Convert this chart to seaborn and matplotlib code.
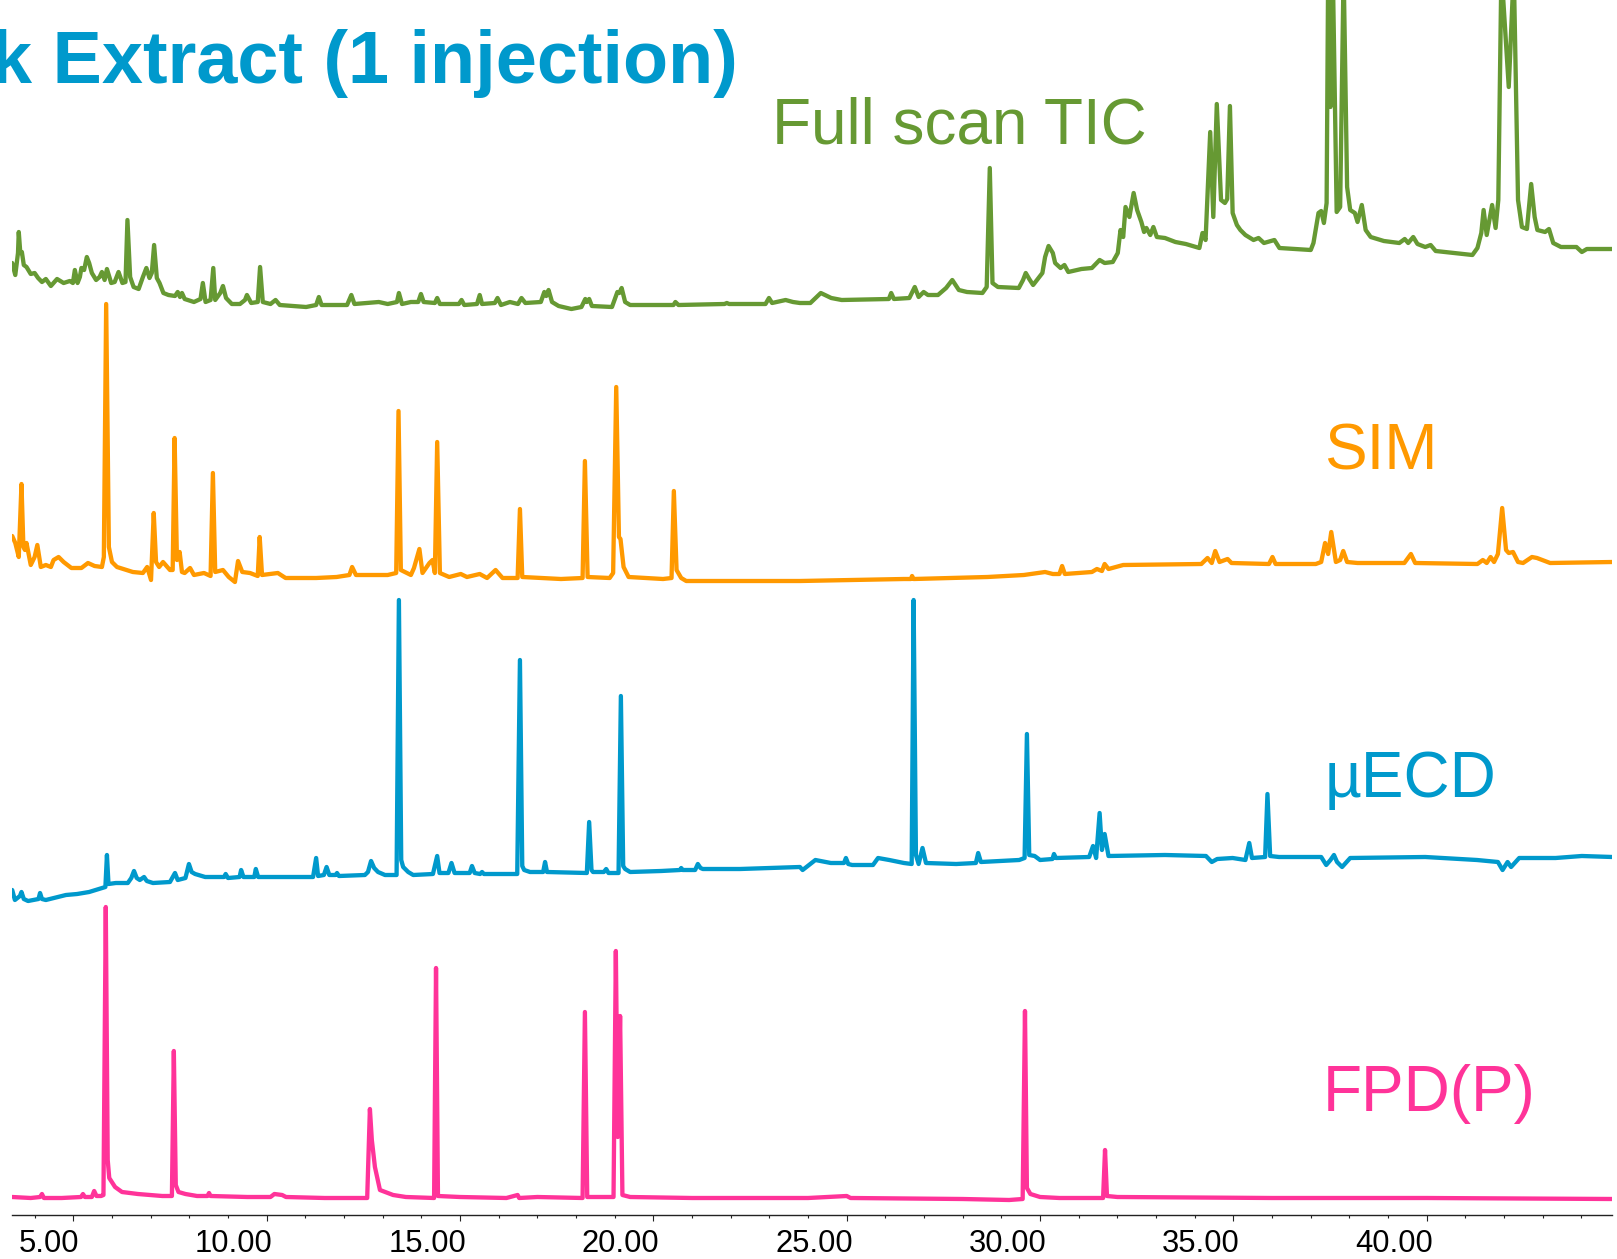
import numpy as np
import pandas as pd
import matplotlib
matplotlib.use("Agg")
import matplotlib.pyplot as plt
import seaborn as sns
from matplotlib.transforms import ScaledTranslation

# ---------------- data (retention time in min, detector signal in a.u.) ----------------
tic_points = [
    (3.42, 47), (3.50, 35), (3.57, 57), (3.59, 78), (3.63, 57), (3.67, 58), (3.72, 45), (3.79, 43),
    (3.90, 36), (4.00, 37), (4.09, 32), (4.19, 28), (4.29, 31), (4.42, 24), (4.58, 31), (4.75, 27),
    (4.91, 29), (4.99, 27), (5.04, 40), (5.11, 27), (5.17, 33), (5.21, 42), (5.28, 40), (5.35, 53),
    (5.41, 47), (5.48, 37), (5.59, 30), (5.68, 33), (5.74, 38), (5.81, 30), (5.87, 41), (5.98, 27),
    (6.07, 28), (6.17, 38), (6.27, 27), (6.35, 28), (6.40, 90), (6.47, 33), (6.56, 23), (6.69, 21),
    (6.80, 33), (6.89, 42), (6.97, 32), (7.03, 37), (7.09, 65), (7.16, 32), (7.23, 27), (7.33, 17),
    (7.46, 15), (7.63, 14), (7.70, 18), (7.76, 13), (7.81, 17), (7.88, 11), (8.12, 8), (8.29, 11),
    (8.35, 27), (8.42, 8), (8.55, 10), (8.62, 42), (8.67, 10), (8.80, 17), (8.87, 24), (8.95, 12),
    (9.10, 6), (9.31, 6), (9.44, 10), (9.49, 15), (9.60, 7), (9.77, 8), (9.83, 43), (9.90, 8),
    (10.10, 6), (10.23, 10), (10.34, 5), (11.02, 3), (11.28, 5), (11.35, 13), (11.42, 5), (12.08, 5),
    (12.19, 15), (12.27, 6), (12.90, 8), (13.13, 6), (13.37, 8), (13.42, 17), (13.50, 6), (13.73, 8),
    (13.92, 8), (13.99, 16), (14.06, 8), (14.35, 7), (14.41, 12), (14.48, 6), (14.97, 6), (15.04, 10),
    (15.11, 5), (15.44, 6), (15.51, 15), (15.57, 6), (15.90, 7), (15.97, 12), (16.06, 5), (16.29, 8),
    (16.50, 6), (16.59, 12), (16.69, 7), (17.09, 8), (17.18, 18), (17.23, 14), (17.29, 20), (17.38, 8),
    (17.55, 4), (17.88, 1), (18.14, 3), (18.24, 11), (18.28, 8), (18.34, 11), (18.41, 4), (18.93, 3),
    (19.07, 18), (19.12, 17), (19.18, 22), (19.27, 8), (19.40, 5), (20.52, 5), (20.57, 8), (20.65, 5),
    (21.84, 6), (21.90, 7), (21.96, 6), (22.90, 6), (22.99, 12), (23.07, 7), (23.42, 10), (23.61, 8),
    (23.79, 7), (24.06, 7), (24.33, 17), (24.60, 12), (24.87, 10), (26.09, 11), (26.15, 17), (26.22, 11),
    (26.62, 12), (26.76, 23), (26.86, 13), (26.99, 18), (27.10, 15), (27.36, 15), (27.57, 22), (27.73, 30),
    (27.90, 20), (28.11, 18), (28.51, 17), (28.62, 23), (28.70, 142), (28.77, 27), (28.91, 23), (29.45, 22),
    (29.56, 30), (29.63, 37), (29.72, 31), (29.82, 25), (29.92, 30), (30.06, 37), (30.13, 53), (30.22, 64),
    (30.33, 57), (30.39, 47), (30.53, 42), (30.63, 45), (30.73, 38), (31.07, 41), (31.34, 42), (31.54, 50),
    (31.67, 47), (31.88, 48), (32.01, 57), (32.08, 80), (32.15, 73), (32.21, 103), (32.31, 93), (32.42, 117),
    (32.51, 100), (32.62, 88), (32.69, 78), (32.75, 82), (32.85, 75), (32.93, 83), (33.02, 73), (33.23, 72),
    (33.50, 68), (33.77, 66), (34.03, 63), (34.12, 62), (34.20, 77), (34.28, 70), (34.40, 178), (34.48, 93),
    (34.57, 206), (34.68, 110), (34.78, 107), (34.84, 111), (34.91, 204), (34.98, 97), (35.09, 85), (35.18, 80),
    (35.31, 75), (35.52, 70), (35.65, 72), (35.79, 67), (36.06, 70), (36.19, 62), (37.00, 60), (37.07, 67),
    (37.20, 97), (37.27, 99), (37.34, 87), (37.41, 107), (37.45, 340), (37.51, 203), (37.57, 340), (37.67, 98),
    (37.76, 103), (37.85, 340), (37.94, 123), (38.02, 100), (38.14, 97), (38.21, 88), (38.32, 105), (38.42, 80),
    (38.55, 73), (38.89, 69), (39.29, 67), (39.43, 71), (39.52, 67), (39.65, 73), (39.76, 66), (39.96, 63),
    (40.10, 65), (40.23, 59), (41.18, 55), (41.31, 62), (41.41, 77), (41.47, 100), (41.55, 75), (41.69, 105),
    (41.78, 82), (41.85, 110), (41.93, 340), (42.12, 223), (42.25, 340), (42.36, 110), (42.46, 83), (42.59, 81),
    (42.70, 126), (42.79, 93), (42.86, 80), (43.06, 78), (43.16, 81), (43.27, 67), (43.47, 63), (43.87, 63),
    (44.01, 58), (44.14, 61), (44.80, 61),
]

sim_points = [
    (3.42, 49), (3.50, 42), (3.59, 28), (3.66, 101), (3.71, 38), (3.75, 35), (3.79, 42), (3.90, 20),
    (4.00, 28), (4.07, 40), (4.16, 18), (4.29, 20), (4.42, 18), (4.49, 25), (4.62, 28), (4.75, 23),
    (4.95, 17), (5.21, 17), (5.38, 22), (5.55, 19), (5.74, 18), (5.79, 28), (5.85, 281), (5.92, 38),
    (6.00, 23), (6.13, 18), (6.54, 13), (6.80, 12), (6.91, 18), (7.01, 5), (7.08, 72), (7.14, 23),
    (7.22, 18), (7.32, 23), (7.50, 15), (7.57, 15), (7.62, 147), (7.68, 25), (7.75, 33), (7.81, 13),
    (7.88, 12), (8.02, 17), (8.12, 10), (8.38, 12), (8.55, 9), (8.61, 112), (8.67, 13), (8.87, 15),
    (9.02, 8), (9.18, 3), (9.26, 24), (9.37, 13), (9.57, 12), (9.77, 9), (9.82, 48), (9.88, 10),
    (10.29, 12), (10.49, 7), (11.28, 7), (11.81, 8), (12.14, 10), (12.21, 18), (12.31, 10), (13.13, 10),
    (13.35, 12), (13.41, 174), (13.47, 15), (13.73, 10), (13.81, 17), (13.95, 36), (14.03, 12), (14.21, 22),
    (14.29, 25), (14.35, 12), (14.41, 143), (14.48, 12), (14.72, 8), (15.02, 11), (15.18, 8), (15.51, 11),
    (15.70, 7), (15.92, 15), (16.10, 7), (16.49, 7), (16.55, 76), (16.61, 8), (17.09, 7), (17.61, 6),
    (18.17, 7), (18.23, 124), (18.30, 8), (18.87, 7), (18.96, 12), (19.04, 198), (19.11, 48), (19.15, 46),
    (19.23, 18), (19.36, 8), (20.25, 6), (20.47, 7), (20.53, 94), (20.60, 15), (20.72, 7), (20.85, 4),
    (23.79, 4), (26.48, 6), (26.66, 6), (26.69, 9), (26.73, 6), (28.64, 8), (29.58, 10), (30.13, 13),
    (30.33, 11), (30.50, 11), (30.57, 19), (30.64, 11), (31.34, 13), (31.47, 16), (31.60, 14), (31.67, 21),
    (31.77, 16), (32.15, 20), (34.17, 21), (34.33, 27), (34.44, 22), (34.53, 34), (34.64, 23), (34.85, 26),
    (34.95, 22), (35.92, 21), (36.01, 28), (36.09, 21), (37.13, 21), (37.27, 23), (37.37, 42), (37.45, 31),
    (37.53, 53), (37.65, 23), (37.76, 25), (37.84, 34), (37.94, 23), (38.21, 22), (39.42, 22), (39.59, 31),
    (39.70, 22), (41.31, 21), (41.45, 25), (41.55, 22), (41.65, 28), (41.74, 23), (41.84, 31), (41.95, 77),
    (42.05, 35), (42.12, 32), (42.23, 33), (42.36, 23), (42.49, 22), (42.72, 28), (42.85, 27), (43.19, 22),
    (44.80, 23),
]

ecd_points = [
    (3.42, -10), (3.49, -20), (3.62, -16), (3.66, -12), (3.72, -19), (3.83, -21), (4.10, -19), (4.14, -13),
    (4.19, -19), (4.29, -20), (4.81, -15), (5.10, -14), (5.41, -12), (5.74, -8), (5.83, -7), (5.87, 25),
    (5.91, -4), (6.10, -3), (6.41, -3), (6.50, 2), (6.57, 9), (6.64, 2), (6.72, 0), (6.83, 3),
    (6.90, -1), (7.06, -3), (7.50, -2), (7.63, 7), (7.70, 0), (7.90, 2), (7.99, 16), (8.06, 8),
    (8.15, 6), (8.41, 3), (8.90, 3), (8.94, 6), (9.00, 2), (9.30, 3), (9.34, 10), (9.40, 3),
    (9.68, 3), (9.72, 11), (9.78, 3), (11.20, 3), (11.28, 22), (11.33, 4), (11.48, 5), (11.55, 13),
    (11.62, 5), (11.78, 5), (11.82, 7), (11.87, 4), (12.54, 5), (12.62, 8), (12.70, 19), (12.78, 12),
    (12.88, 8), (13.06, 5), (13.36, 5), (13.42, 280), (13.48, 20), (13.53, 13), (13.66, 8), (13.79, 5),
    (14.30, 6), (14.41, 24), (14.47, 7), (14.70, 7), (14.78, 17), (14.86, 7), (15.25, 7), (15.31, 14),
    (15.38, 7), (15.52, 6), (15.57, 8), (15.62, 6), (16.48, 6), (16.55, 220), (16.61, 14), (16.66, 10),
    (16.81, 8), (17.15, 8), (17.20, 18), (17.25, 8), (18.28, 7), (18.34, 58), (18.40, 10), (18.44, 8),
    (18.72, 8), (18.78, 11), (18.84, 7), (19.10, 7), (19.16, 184), (19.22, 14), (19.27, 11), (19.40, 8),
    (20.20, 9), (20.69, 10), (20.72, 12), (20.76, 10), (21.08, 10), (21.15, 16), (21.22, 12), (21.28, 11),
    (22.24, 11), (23.79, 13), (23.86, 10), (24.19, 20), (24.59, 17), (24.93, 17), (24.98, 22), (25.04, 16),
    (25.14, 15), (25.68, 15), (25.81, 22), (26.10, 20), (26.48, 17), (26.68, 16), (26.73, 280), (26.79, 25),
    (26.86, 16), (26.96, 32), (27.05, 17), (27.83, 16), (28.34, 17), (28.40, 27), (28.47, 18), (29.46, 20),
    (29.60, 22), (29.66, 146), (29.72, 25), (29.86, 24), (30.00, 20), (30.32, 21), (30.36, 26), (30.41, 22),
    (31.27, 23), (31.37, 34), (31.45, 22), (31.54, 67), (31.60, 30), (31.67, 46), (31.77, 24), (33.23, 25),
    (34.29, 24), (34.44, 18), (34.58, 21), (34.98, 22), (35.31, 20), (35.41, 37), (35.48, 22), (35.82, 23),
    (35.88, 86), (35.95, 24), (36.18, 23), (37.27, 23), (37.40, 15), (37.51, 20), (37.60, 25), (37.68, 18),
    (37.81, 13), (38.02, 22), (39.96, 23), (41.30, 20), (41.84, 18), (41.96, 10), (42.09, 18), (42.18, 13),
    (42.39, 22), (43.33, 22), (44.01, 24), (44.80, 23),
]

fpd_points = [
    (3.42, 3), (3.90, 2), (4.14, 3), (4.19, 6), (4.24, 2), (4.70, 2), (5.20, 3), (5.25, 6),
    (5.30, 3), (5.48, 3), (5.54, 9), (5.60, 4), (5.72, 4), (5.78, 5), (5.84, 293), (5.89, 40),
    (5.93, 22), (6.08, 13), (6.26, 8), (6.67, 6), (7.30, 4), (7.55, 4), (7.60, 149), (7.65, 15),
    (7.72, 8), (7.90, 6), (8.20, 4), (8.47, 4), (8.51, 7), (8.55, 4), (9.50, 3), (10.10, 3),
    (10.20, 6), (10.40, 5), (10.50, 3), (11.50, 2), (12.60, 2), (12.67, 91), (12.72, 60), (12.80, 33),
    (12.93, 10), (13.27, 5), (13.60, 3), (14.33, 2), (14.38, 232), (14.43, 4), (15.00, 3), (16.20, 2),
    (16.49, 5), (16.53, 2), (17.00, 3), (18.17, 2), (18.23, 188), (18.29, 3), (18.97, 3), (19.03, 249),
    (19.08, 63), (19.14, 184), (19.20, 5), (19.40, 3), (21.00, 2), (24.00, 2), (25.00, 4), (25.10, 2),
    (28.00, 1), (29.20, 0), (29.55, 1), (29.61, 189), (29.66, 12), (29.75, 6), (30.00, 3), (30.50, 2),
    (31.63, 2), (31.68, 50), (31.73, 4), (32.00, 3), (36.00, 2), (40.00, 2), (44.80, 1),
]

trace_names = ["Full scan TIC", "SIM", "\u00b5ECD", "FPD(P)"]
trace_colors = ["#669933", "#FF9900", "#0099CC", "#FF3399"]
major_ticks = [5, 10, 15, 20, 25, 30, 35, 40]
tick_labels = ["5.00", "10.00", "15.00", "20.00", "25.00", "30.00", "35.00", "40.00"]
minor_ticks = list(range(4, 45))
title_text = "k Extract (1 injection)"

# ---------------- layout / style ----------------
W, H = 1617, 1259
trace_offsets = [905, 630, 335, 15]          # vertical stacking of the traces
label_pos = [(772, 143), (1324, 470), (1325, 797), (1323, 1111)]  # left ink edge, baseline (px)

sns.set_style("white")
plt.rcParams["font.family"] = ["Liberation Sans", "DejaVu Sans"]

fig = plt.figure(figsize=(W / 100, H / 100), dpi=100)
ax = fig.add_axes([12 / W, 44 / H, 1600 / W, 1215 / H])

for pts, color, off in zip([tic_points, sim_points, ecd_points, fpd_points], trace_colors, trace_offsets):
    df = pd.DataFrame(pts, columns=["time", "signal"])
    df["y"] = df["signal"] + off
    sns.lineplot(data=df, x="time", y="y", ax=ax, color=color, linewidth=3.1,
                 estimator=None, sort=False, solid_joinstyle="round", solid_capstyle="round")

ax.set_xlim(3.415, 44.79)
ax.set_ylim(0, 1215)
ax.set_xlabel("")
ax.set_ylabel("")
ax.set_yticks([])
for s in ["left", "top", "right"]:
    ax.spines[s].set_visible(False)
ax.spines["bottom"].set_color("#222222")
ax.spines["bottom"].set_linewidth(1.0)

ax.set_xticks(major_ticks)
ax.set_xticklabels(tick_labels, ha="right")
ax.set_xticks(minor_ticks, minor=True)
ax.tick_params(axis="x", which="major", direction="out", length=4.1, width=0.8, pad=6.0,
               labelsize=22.3, color="#222222", labelcolor="black", bottom=True)
ax.tick_params(axis="x", which="minor", direction="out", length=2.4, width=0.8, color="#222222", bottom=True)
offset = ScaledTranslation(6 / 100, 0, fig.dpi_scale_trans)
for lbl in ax.xaxis.get_majorticklabels():
    lbl.set_transform(lbl.get_transform() + offset)

for name, color, (px, py) in zip(trace_names, trace_colors, label_pos):
    fig.text(px / W, 1 - py / H, name, color=color, fontsize=46, ha="left", va="baseline")

# the title is cropped at the left edge in the reference, so it runs off the figure on purpose
fig.text(738 / W, 1 - 83 / H, title_text, color="#0099CC", fontsize=53.2, fontweight="bold",
         ha="right", va="baseline")

fig.savefig("out.png", dpi=100)
